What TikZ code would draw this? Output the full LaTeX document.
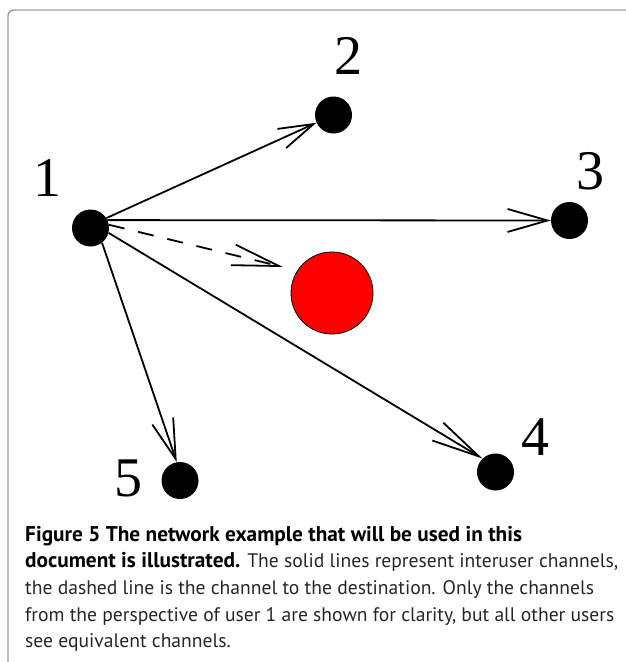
\documentclass[tikz,border=0pt]{standalone}
\usepackage{fontspec}
\setmainfont{Liberation Serif}
\newfontfamily\capfont{PT Sans}
\usetikzlibrary{arrows.meta}
\newcommand{\capbf}[1]{{\fontsize{21.3}{26.7}\selectfont\bfseries\color{black}#1}}
\begin{document}
\begin{tikzpicture}[x=1pt,y=-1pt,
  user/.style={circle,fill=black,minimum size=37pt,inner sep=0pt},
  dest/.style={circle,fill=red,draw=black,line width=0.8pt,minimum size=82pt,inner sep=0pt},
  lbl/.style={font=\fontsize{56}{60}\selectfont,inner sep=0pt},
  chan/.style={line width=1.8pt},
  barb/.style 2 args={-{Straight Barb[length=#1pt,width=#2pt]}},
  capline/.style={anchor=base west,inner sep=0pt,font=\capfont\fontsize{19.6}{26.7}\selectfont,text=black!85}
]
\useasboundingbox (0,0) rectangle (626,662);
\begin{scope}
\clip (0,0) rectangle (626,662);
\draw[gray!80,line width=1.3pt,rounded corners=6pt] (8,10) rectangle (660,700);
\end{scope}
% nodes
\node[user] (n1) at (90.5,228) {};
\node[user] (n2) at (333.5,115) {};
\node[user] (n3) at (569.5,220.5) {};
\node[user] (n4) at (495.5,472) {};
\node[user] (n5) at (180,480.5) {};
\node[dest] (d) at (332,293) {};
\coordinate (dtip) at (283,267);
% labels
\node[lbl] (l1) at (47,178) {1};
\node[lbl] (l2) at (348,56) {2};
\node[lbl] (l3) at (590,171) {3};
\node[lbl] (l4) at (535,437) {4};
\node[lbl] (l5) at (128,478) {5};
% channels
\draw[chan,barb={35}{21}] (n1.32) -- (n2);
\draw[chan,barb={40}{23}] (n1.25) -- (n3.west);
\draw[chan,barb={47}{21},dash pattern=on 16pt off 14pt] (n1.10) -- (dtip);
\draw[chan,barb={48}{21}] (n1.-15) -- (n4.134);
\draw[chan,barb={40}{22}] (n1.-52) -- (n5.100);
% caption
\node[capline] (c1) at (25,541) {\capbf{Figure 5 The network example that will be used in this}};
\node[capline] (c2) at (25,567.7) {\capbf{document is illustrated.} The solid lines represent interuser channels,};
\node[capline] (c3) at (25,594.4) {the dashed line is the channel to the destination. Only the channels};
\node[capline] (c4) at (25,621.1) {from the perspective of user 1 are shown for clarity, but all other users};
\node[capline] (c5) at (25,647.8) {see equivalent channels.};
\end{tikzpicture}
\end{document}
